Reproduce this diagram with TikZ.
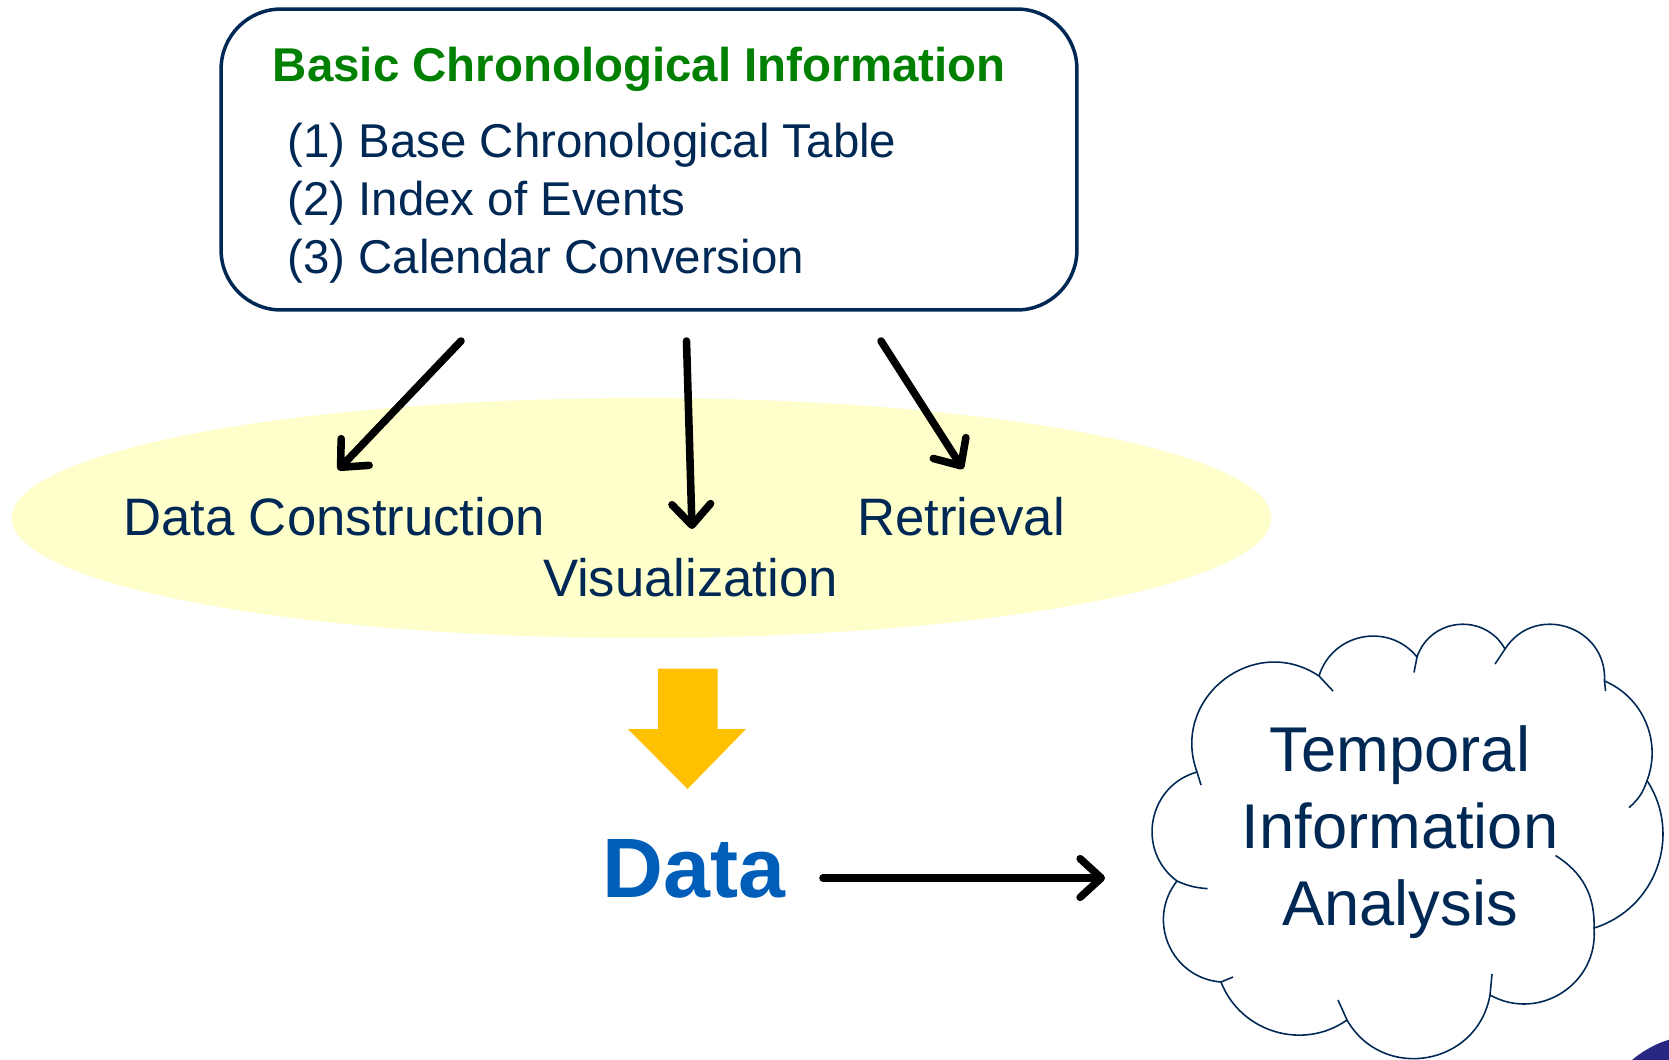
\documentclass[tikz,border=0pt]{standalone}
\usepackage{fontspec}
\setmainfont{Liberation Sans}
\usetikzlibrary{arrows.meta,shapes.geometric}
\definecolor{navy}{RGB}{0,40,85}
\definecolor{titlegreen}{RGB}{0,128,0}
\definecolor{paleyellow}{RGB}{255,255,204}
\definecolor{amber}{RGB}{255,192,0}
\definecolor{datablue}{RGB}{0,94,184}
\definecolor{globeblue}{RGB}{40,40,130}
\tikzset{
  itemtext/.style={anchor=base west,inner sep=0pt,text=navy,font=\fontsize{27}{32}\selectfont},
  labeltext/.style={anchor=base,inner sep=0pt,text=navy,font=\fontsize{30}{36}\selectfont},
  flowarrow/.style={line width=4.3pt,line cap=round,-{Straight Barb[length=12pt,width=22pt,line cap=round,line join=round]}},
  cloudline/.style={draw=navy,line width=0.9pt,line join=round},
}
\begin{document}
\begin{tikzpicture}[x=0.02cm,y=-0.02cm]
\useasboundingbox (0,0) rectangle (1669,1059);
\begin{scope}
\clip (0,0) rectangle (1669,1059);
\fill[globeblue] (1700,1140) circle (105);
\end{scope}
% top box
\node[draw=navy,line width=2pt,rounded corners=1.2cm,minimum width=17.12cm,minimum height=6.02cm,inner sep=0pt] (bci) at (649,159.5) {};
\node[anchor=base west,inner sep=0pt,text=titlegreen,font=\fontsize{27}{32}\selectfont\bfseries] (title) at (272.5,81) {Basic Chronological Information};
\node[itemtext] (it1) at (287,157.5) {(1) Base Chronological Table};
\node[itemtext] (it2) at (287,215) {(2) Index of Events};
\node[itemtext] (it3) at (287,273.5) {(3) Calendar Conversion};
% ellipse
\node[ellipse,fill=paleyellow,minimum width=25.2cm,minimum height=4.8cm,inner sep=0pt] (ell) at (641.5,518) {};
\node[labeltext] (dc) at (334,535.5) {Data Construction};
\node[labeltext] (vis) at (690.5,596) {Visualization};
\node[labeltext] (ret) at (961,535.5) {Retrieval};
% arrows from box
\coordinate (s1) at (461,341); \coordinate (e1) at (338,470);
\coordinate (s2) at (686.5,341); \coordinate (e2) at (692,529);
\coordinate (s3) at (881,341); \coordinate (e3) at (963,469);
\draw[flowarrow] (s1) -- (e1);
\draw[flowarrow] (s2) -- (e2);
\draw[flowarrow] (s3) -- (e3);
% block arrow
\fill[amber] (658,668.5) -- (717.5,668.5) -- (717.5,729) -- (746,729) -- (687.5,789) -- (628,729) -- (658,729) -- cycle;
% data
\node[anchor=base,inner sep=0pt,text=datablue,font=\fontsize{48}{56}\selectfont\bfseries] (data) at (694,897) {Data};
% cloud
\coordinate (ca) at (1197,772);
\coordinate (cb) at (1319,676);
\coordinate (cc) at (1417,657);
\coordinate (cd) at (1505,649);
\coordinate (ce) at (1604.5,681);
\coordinate (cf) at (1647,780.6);
\coordinate (cg) at (1594,928);
\coordinate (ch) at (1490,995);
\coordinate (ci) at (1347,1020);
\coordinate (cj) at (1221,982);
\coordinate (ck) at (1177,881);
\draw[cloudline] (ca) to[bend left=72,looseness=1.29] (cb)
  to[bend left=62,looseness=1.16] (cc)
  to[bend left=66,looseness=1.21] (cd)
  to[bend left=75,looseness=1.35] (ce)
  to[bend left=44,looseness=0.99] (cf)
  to[bend left=53,looseness=1.06] (cg)
  to[bend left=62,looseness=1.16] (ch)
  to[bend left=70,looseness=1.27] (ci)
  to[bend left=52,looseness=1.05] (cj)
  to[bend left=62,looseness=1.16] (ck)
  to[bend left=64,looseness=1.18] (ca);
% inner tails of the cloud
\coordinate (t1) at (1333,691); \coordinate (t2) at (1414,672.5);
\coordinate (t3) at (1495,664); \coordinate (t4) at (1605.5,691);
\coordinate (t5) at (1629,807.6); \coordinate (t6) at (1555.5,855.5);
\coordinate (t7) at (1492,974); \coordinate (t8) at (1338,1000);
\coordinate (t9) at (1233,977); \coordinate (t10) at (1207.6,888.6);
\coordinate (t11) at (1201,785);
\draw[cloudline] (cb) -- (t1);
\draw[cloudline] (cc) -- (t2);
\draw[cloudline] (cd) -- (t3);
\draw[cloudline] (ce) -- (t4);
\draw[cloudline] (cf) to[bend left=15] (t5);
\draw[cloudline] (t6) to[bend left=30] (cg);
\draw[cloudline] (ch) -- (t7);
\draw[cloudline] (ci) -- (t8);
\draw[cloudline] (cj) -- (t9);
\draw[cloudline] (ck) to[bend right=10] (t10);
\draw[cloudline] (ca) -- (t11);
\node[align=center,inner sep=0pt,text=navy,font=\fontsize{36}{43.8}\selectfont] (tia) at (1400,832) {Temporal\\Information\\Analysis};
\coordinate (ds) at (823,878); \coordinate (de) at (1105,878);
\draw[flowarrow] (ds) -- (de);
\end{tikzpicture}
\end{document}
